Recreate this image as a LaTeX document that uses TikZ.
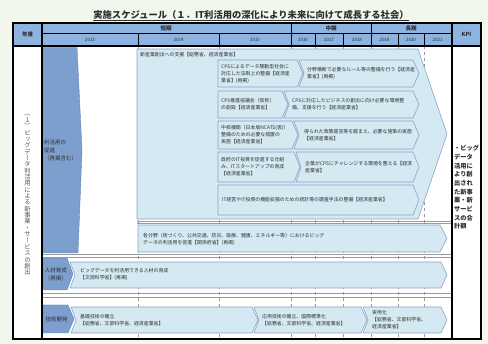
\documentclass[tikz,border=0pt]{standalone}
\usepackage{fontspec}
\setmainfont{Noto Sans CJK JP}
\newfontfamily\vjp[RawFeature=+vert]{Noto Sans CJK JP}
\usetikzlibrary{calc}
\definecolor{bgc}{HTML}{F2F7EE}
\definecolor{hdr}{HTML}{8DB3E0}
\definecolor{darkb}{HTML}{7C9FCD}
\definecolor{darkedge}{HTML}{5E83B8}
\definecolor{lightb}{HTML}{D4E9F2}
\definecolor{edgeb}{HTML}{8EA2C8}
\definecolor{txt}{HTML}{2E2E2E}
\definecolor{gridc}{HTML}{9A9A9A}
\newcommand\arrbox[7]{% style, x1, xflat, tip, y1, y2, notch
  \path[#1] (#2,#5) -- (#3,#5) -- (#4,{(#5+#6)/2}) -- (#3,#6) -- (#2,#6) -- ({#2+#7},{(#5+#6)/2}) -- cycle;}
\tikzset{
  lbox/.style={fill=lightb, draw=edgeb, line width=0.6pt, line join=round},
  dbox/.style={fill=darkb, draw=darkedge, line width=0.4pt},
  btxt/.style={font=\fontsize{4.9}{7}\selectfont, text=txt, align=left, inner sep=0pt, anchor=west},
  dtxt/.style={font=\fontsize{5.5}{8}\selectfont, text=txt, inner sep=0pt},
  htxt/.style={font=\bfseries\fontsize{5.5}{6}\selectfont, text=txt, inner sep=0pt},
  ytxt/.style={font=\fontsize{4.5}{5}\selectfont, text=txt, inner sep=0pt},
  gline/.style={gridc, line width=0.5pt},
}
\begin{document}
\begin{tikzpicture}[x=1pt,y=-1pt]
\useasboundingbox (0,0) rectangle (488,344);
\fill[bgc] (0,0) rectangle (488,344);
% title
\node[font=\bfseries\fontsize{9.3}{11}\selectfont, text=txt, inner sep=0pt] (title) at (251,14.5) {実施スケジュール（１．IT利活用の深化により未来に向けて成長する社会）};
\draw[txt, line width=0.6pt] ($(title.south west)+(0,1)$) -- ($(title.south east)+(0,1)$);
% table body
\fill[white] (13,46) rectangle (481,339);
\fill[hdr] (13,23) rectangle (481,46);
% grid in body
\foreach \gx in {138,219,291,315,343,371,398,424}
  \draw[gline, dashed] (\gx,46) -- (\gx,339);
\draw[gline] (137,221) -- (452,221) (137,223.5) -- (452,223.5);
\draw[gline] (42,254) -- (452,254) (42,257.5) -- (452,257.5);
\draw[gline] (42,293) -- (452,293) (42,297) -- (452,297);
% header lines
\draw[line width=0.5pt] (42,33.5) -- (452,33.5);
\foreach \gx in {138,219,315,343,398,424}
  \draw[line width=0.4pt] (\gx,33.5) -- (\gx,46);
\draw[line width=0.5pt] (291,23) -- (291,46) (371,23) -- (371,46);
% header texts
\node[htxt] (nendo) at (27.5,34.5) {年度};
\node[htxt] (tanki) at (166,28.3) {短期};
\node[htxt] (chuki) at (331,28.3) {中期};
\node[htxt] (choki) at (411,28.3) {長期};
\node[htxt] (kpi) at (466.5,34.5) {KPI};
\node[ytxt] (y13) at (90,40) {2013};
\node[ytxt] (y14) at (178.5,40) {2014};
\node[ytxt] (y15) at (255,40) {2015};
\node[ytxt] (y16) at (303,40) {2016};
\node[ytxt] (y17) at (329,40) {2017};
\node[ytxt] (y18) at (357,40) {2018};
\node[ytxt] (y19) at (384.5,40) {2019};
\node[ytxt] (y20) at (411,40) {2020};
\node[ytxt] (y21) at (437.5,40) {2021};
% left vertical text
\node[font=\vjp\fontsize{6.3}{6.35}\selectfont, align=center, inner sep=0pt, text=txt!80] (vt) at (27.5,195)
 {（\\１\\）\\ビ\\ッ\\グ\\デ\\ー\\タ\\利\\活\\用\\に\\よ\\る\\新\\事\\業\\・\\サ\\ー\\ビ\\ス\\の\\創\\出};
% section 1
\path[dbox] (43,47.5) -- (77,47.5) -- (82,150) -- (78,253) -- (43,253) -- cycle;
\node[dtxt, anchor=west, align=left] (s1) at (44,150) {利活用の\\促進\\（再掲含む）};
\path[lbox] (137,49) -- (418,49) -- (447,134) -- (418,219) -- (137,219) -- cycle;
\node[btxt] (shin) at (140,55) {新産業創出への支援【総務省、経済産業省】};
% row A
\arrbox{lbox}{218}{297}{303}{60}{87}{0}
\arrbox{lbox}{299}{413}{419}{60}{87}{5}
\node[btxt] (a1) at (221,73.5) {CPSによるデータ駆動型社会に\\対応した法制上の整備【経済産\\業省】(再掲)};
\node[btxt] (a2) at (307,73.5) {分野横断で必要なルール等の整備を行う【経済産\\業省】(再掲)};
% row B
\arrbox{lbox}{218}{282}{288}{91}{118}{0}
\arrbox{lbox}{284}{413}{419}{91}{118}{5}
\node[btxt] (b1) at (221,104.5) {CPS推進協議会（仮称）\\の創設【経済産業省】};
\node[btxt] (b2) at (292,104.5) {CPSに対応したビジネスの創出に向け必要な環境整\\備、支援を行う【経済産業省】};
% row C
\arrbox{lbox}{218}{292}{298}{121}{149}{0}
\arrbox{lbox}{294}{413}{419}{121}{149}{5}
\node[btxt] (c1) at (221,135) {中核機関（日本版NCATS(仮)）\\整備のための必要な措置の\\実施【経済産業省】};
\node[btxt] (c2) at (304,135) {得られた政策提言等を踏まえ、必要な施策の実施\\【経済産業省】};
% row D
\arrbox{lbox}{218}{294}{300}{152}{182}{0}
\arrbox{lbox}{296}{413}{419}{152}{182}{5}
\node[btxt] (d1) at (221,167) {政府のIT投資を促進する仕組\\み、ITスタートアップの育成\\【経済産業省】};
\node[btxt] (d2) at (305,167) {企業がCPSにチャレンジする環境を整える【経済\\産業省】};
% row E
\arrbox{lbox}{218}{413}{419}{185}{215}{0}
\node[btxt] (e1) at (222,200) {IT経営やIT投資の機能拡張のための統計等の調査手法の整備【経済産業省】};
% each field
\arrbox{lbox}{138}{440}{447}{225}{252}{0}
\node[btxt] (kaku) at (143,239.5) {各分野（街づくり、公共交通、防災、医療、健康、エネルギー等）におけるビッグ\\データの利活用を促進【関係府省】(再掲)};
% section 2
\arrbox{lbox}{70}{441}{447}{262}{288}{5}
\arrbox{dbox}{43}{67}{73}{258}{290}{0}
\node[dtxt, align=center] (s2) at (56,274) {人材育成\\（再掲）};
\node[btxt] (jin) at (80,274) {ビッグデータを利活用できる人材の育成\\【文部科学省】(再掲)};
% section 3
\arrbox{lbox}{71}{252}{258}{307}{333}{5}
\arrbox{lbox}{254}{361}{367}{307}{333}{5}
\arrbox{lbox}{363}{441}{447}{307}{333}{5}
\arrbox{dbox}{43}{68}{74}{305}{333}{0}
\node[dtxt] (s3) at (56.5,319) {技術開発};
\node[btxt] (g1) at (80,320) {基礎技術の確立\\【総務省、文部科学省、経済産業省】};
\node[btxt] (g2) at (262,320) {応用技術の確立、国際標準化\\【総務省、文部科学省、経済産業省】};
\node[btxt] (g3) at (372,320) {実用化\\【総務省、文部科学省、\\経済産業省】};
% KPI text
\node[font=\bfseries\fontsize{6.2}{8.7}\selectfont, text=txt, align=left, inner sep=0pt, anchor=north west] (kpit) at (454,145)
 {・ビッグ\\データ\\活用に\\より創\\出され\\た新事\\業・新\\サービ\\スの合\\計額};
% main borders
\draw[line width=1.3pt] (13,46) -- (481,46);
\draw[line width=1.2pt] (42,23) -- (42,339) (452,23) -- (452,339);
\draw[line width=1.5pt] (13,23) rectangle (481,339);
\end{tikzpicture}
\end{document}
